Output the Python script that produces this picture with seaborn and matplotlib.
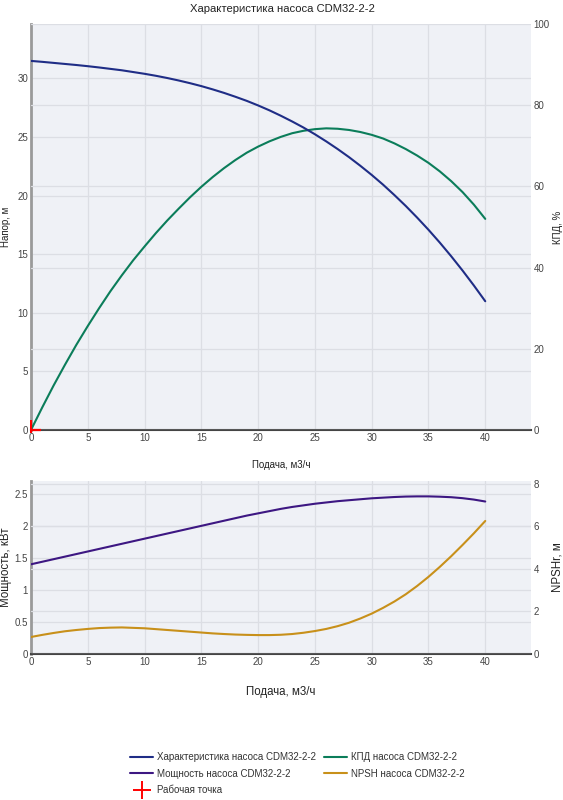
import matplotlib
matplotlib.use("Agg")
import matplotlib.pyplot as plt
from matplotlib.lines import Line2D
from matplotlib.patches import Rectangle
from matplotlib.ticker import FuncFormatter
import seaborn as sns

# Подача, м3/ч
flow = list(range(0, 41))
# Напор, м
head = [31.50, 31.42, 31.33, 31.24, 31.15, 31.05, 30.94, 30.82, 30.70, 30.55,
        30.40, 30.23, 30.04, 29.83, 29.60, 29.35, 29.07, 28.77, 28.44, 28.09,
        27.70, 27.28, 26.82, 26.33, 25.81, 25.24, 24.63, 23.98, 23.29, 22.55,
        21.77, 20.94, 20.05, 19.12, 18.13, 17.09, 15.99, 14.83, 13.61, 12.33, 10.99]
# КПД, %
efficiency = [0.0, 5.6, 11.0, 16.1, 21.0, 25.6, 30.0, 34.2, 38.1, 41.8,
              45.2, 48.5, 51.6, 54.5, 57.3, 59.9, 62.3, 64.5, 66.5, 68.3,
              69.8, 71.1, 72.2, 73.1, 73.7, 74.1, 74.3, 74.2, 73.9, 73.4,
              72.7, 71.8, 70.6, 69.2, 67.6, 65.8, 63.7, 61.3, 58.6, 55.5, 52.0]
# Мощность, кВт
power = [1.400, 1.440, 1.480, 1.520, 1.560, 1.600, 1.640, 1.680, 1.720, 1.760,
         1.800, 1.840, 1.880, 1.920, 1.960, 2.000, 2.040, 2.080, 2.120, 2.160,
         2.195, 2.230, 2.265, 2.295, 2.320, 2.345, 2.365, 2.385, 2.400, 2.415,
         2.430, 2.440, 2.450, 2.457, 2.460, 2.460, 2.455, 2.447, 2.432, 2.410, 2.380]
# NPSHr, м
npsh = [0.80, 0.90, 0.99, 1.07, 1.13, 1.18, 1.22, 1.24, 1.25, 1.23,
        1.21, 1.17, 1.13, 1.09, 1.05, 1.01, 0.97, 0.94, 0.915, 0.90,
        0.89, 0.89, 0.905, 0.94, 1.00, 1.08, 1.18, 1.31, 1.47, 1.67,
        1.90, 2.17, 2.47, 2.81, 3.20, 3.63, 4.10, 4.60, 5.13, 5.68, 6.26]
# рабочая точка
work_q = [0]
work_h = [0]

pump = "CDM32-2-2"
c_head = "#1f2d86"
c_eff = "#0b7d5a"
c_pow = "#3d1782"
c_npsh = "#c8901a"
bg = "#eff1f6"
grid = "#dcdee4"
txt = "#444444"

sns.set_theme(style="white")
plt.rcParams["font.family"] = ["Liberation Sans", "DejaVu Sans"]

fig = plt.figure(figsize=(5.63, 8), dpi=100)
# нижний слой: фон и сетка, затем правая ось, затем кривая левой оси поверх сеток
ax1 = fig.add_axes([0.055, 0.4625, 0.8876, 0.5075])
ax2 = ax1.twinx()
ax1b = ax1.twinx()
ax3 = fig.add_axes([0.055, 0.1825, 0.8876, 0.21625])
ax4 = ax3.twinx()
ax3b = ax3.twinx()

sns.lineplot(x=flow, y=efficiency, ax=ax2, color=c_eff, lw=1.5, legend=False)
sns.lineplot(x=flow, y=head, ax=ax1b, color=c_head, lw=1.5, legend=False)
sns.lineplot(x=flow, y=npsh, ax=ax4, color=c_npsh, lw=1.5, legend=False)
sns.lineplot(x=flow, y=power, ax=ax3b, color=c_pow, lw=1.5, legend=False)

# рабочая точка, обрезана по области графика
pt, = ax1b.plot(work_q, work_h, marker="+", ms=15, mew=1.6, color="red", ls="none", zorder=6)
pt.set_clip_path(Rectangle((-0.002, -0.004), 1.01, 1.01, transform=ax1b.transAxes))

ax1.set_ylim(0, 34.65)
ax1b.set_ylim(0, 34.65)
ax2.set_ylim(0, 100)
ax3.set_ylim(0, 2.7)
ax3b.set_ylim(0, 2.7)
ax4.set_ylim(0, 8.14)
for a in (ax1, ax3):
    a.set_xlim(0, 44)
    a.set_xticks(range(0, 41, 5))
    a.set_facecolor(bg)
    a.grid(True, color=grid, lw=0.9)
    a.set_axisbelow(True)
    a.spines["top"].set_visible(False)
    a.spines["right"].set_visible(False)
    a.spines["left"].set_color("#9a9a9a")
    a.spines["left"].set_linewidth(2)
    a.spines["bottom"].set_color(txt)
    a.spines["bottom"].set_linewidth(1.5)
for a in (ax2, ax4):
    a.grid(True, axis="y", color=grid, lw=0.9)
    a.grid(False, axis="x")
    for s in a.spines.values():
        s.set_visible(False)
for a in (ax1b, ax3b):
    a.set_axis_off()
for a in (ax1, ax2, ax3, ax4):
    a.tick_params(length=0, labelsize=7, labelcolor=txt, pad=2)

ax1.set_yticks(range(0, 31, 5))
ax2.set_yticks(range(0, 101, 20))
ax3.set_yticks([0, 0.5, 1, 1.5, 2, 2.5])
ax4.set_yticks([0, 2, 4, 6, 8])
ax3.yaxis.set_major_formatter(FuncFormatter(lambda v, p: f"{v:g}"))

ax1.set_xlabel("Подача, м3/ч", fontsize=7, color="#222")
ax1.set_ylabel("Напор, м", fontsize=7, color="#222")
ax2.set_ylabel("КПД, %", fontsize=7, color="#222")
ax1.xaxis.set_label_coords(0.5, -0.074)
ax1.yaxis.set_label_coords(-0.04, 0.5)
ax2.yaxis.set_label_coords(1.044, 0.5)

ax3.set_xlabel("Подача, м3/ч", fontsize=8.3, color="#222")
ax3.set_ylabel("Мощность, кВт", fontsize=8.3, color="#222")
ax4.set_ylabel("NPSHr, м", fontsize=8.3, color="#222")
ax3.xaxis.set_label_coords(0.5, -0.185)
ax3.yaxis.set_label_coords(-0.038, 0.5)
ax4.yaxis.set_label_coords(1.042, 0.5)

fig.text(0.502, 1 - 9 / 800, f"Характеристика насоса {pump}", ha="center", va="center",
         fontsize=8.1, color="#222")

handles = [
    Line2D([], [], color=c_head, lw=1.5),
    Line2D([], [], color=c_pow, lw=1.5),
    Line2D([], [], color="red", marker="+", ms=13, mew=1.4, ls="none"),
    Line2D([], [], color=c_eff, lw=1.5),
    Line2D([], [], color=c_npsh, lw=1.5),
]
labels = [
    f"Характеристика насоса {pump}",
    f"Мощность насоса {pump}",
    "Рабочая точка",
    f"КПД насоса {pump}",
    f"NPSH насоса {pump}",
]
fig.legend(handles, labels, loc="upper left", bbox_to_anchor=(0.231, 1 - 752 / 800), ncol=2,
           frameon=False, fontsize=7, handlelength=2.37, handletextpad=0.41,
           columnspacing=0.82, labelspacing=0.68, borderpad=0, borderaxespad=0, labelcolor="#333")

fig.savefig("out.png", dpi=100, facecolor="white")
